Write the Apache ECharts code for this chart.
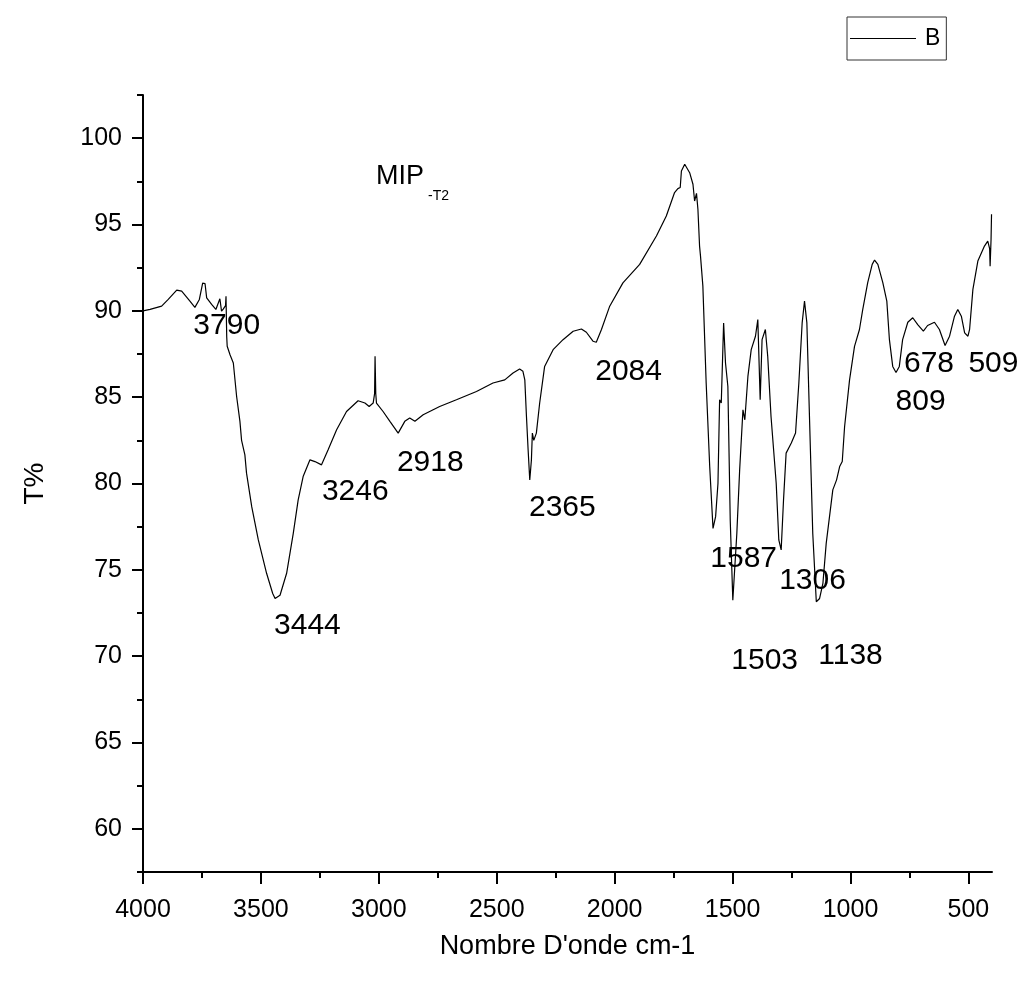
<!DOCTYPE html>
<html>
<head>
<meta charset="utf-8">
<script src="https://cdn.jsdelivr.net/npm/echarts@6/dist/echarts.min.js"></script>
<style>
  html, body { margin: 0; padding: 0; background: #fff; }
  #chart { width: 1024px; height: 983px; }
</style>
</head>
<body>
<div id="chart"></div>
<script>
// spectre IR (nombre d'onde, transmittance %)
const waveNumber = [
  4000, 3970, 3921, 3893, 3857, 3836, 3801, 3780, 3761, 3747, 3737, 3730, 3709, 3691, 3674, 3667,
  3660, 3650, 3648, 3645, 3643, 3631, 3617, 3603, 3589, 3582, 3568, 3561, 3539, 3511, 3476, 3450,
  3440, 3419, 3391, 3363, 3342, 3321, 3292, 3271, 3243, 3215, 3179, 3137, 3088, 3059, 3041, 3024,
  3018, 3016, 3013, 3010, 2982, 2953, 2918, 2890, 2869, 2847, 2812, 2742, 2671, 2586, 2516, 2466,
  2431, 2403, 2389, 2381, 2374, 2367, 2360, 2353, 2349, 2343, 2332, 2318, 2297, 2261, 2219, 2176,
  2141, 2120, 2092, 2078, 2056, 2021, 1965, 1894, 1823, 1781, 1746, 1732, 1722, 1717, 1713, 1703,
  1696, 1682, 1668, 1661, 1653, 1647, 1640, 1636, 1626, 1612, 1597, 1583, 1572, 1562, 1555, 1548,
  1538, 1530, 1520, 1510, 1499, 1492, 1482, 1470, 1456, 1448, 1435, 1421, 1403, 1393, 1383, 1375,
  1361, 1351, 1337, 1315, 1304, 1294, 1284, 1273, 1251, 1233, 1219, 1205, 1195, 1185, 1174, 1160,
  1145, 1131, 1117, 1103, 1075, 1059, 1046, 1035, 1025, 1004, 983, 962, 948, 927, 908, 898,
  884, 863, 846, 835, 821, 807, 793, 779, 757, 736, 715, 691, 673, 644, 623, 599,
  580, 559, 545, 530, 516, 502, 495, 481, 460, 432, 418, 410, 408, 404, 402
];
const transmittance = [
  90.0, 90.08, 90.27, 90.66, 91.2, 91.14, 90.56, 90.2, 90.66, 91.6, 91.58, 90.75, 90.37, 90.08, 90.7, 89.98,
  90.1, 90.3, 90.85, 88.5, 87.95, 87.46, 86.98, 85.04, 83.6, 82.5, 81.66, 80.6, 78.66, 76.73, 74.8, 73.63,
  73.34, 73.53, 74.8, 77.1, 79.05, 80.4, 81.37, 81.27, 81.08, 81.95, 83.11, 84.17, 84.79, 84.66, 84.46, 84.66,
  85.2, 87.37, 85.2, 84.66, 84.17, 83.6, 82.92, 83.6, 83.8, 83.6, 83.98, 84.46, 84.85, 85.33, 85.82, 86.0,
  86.4, 86.63, 86.5, 86.0, 83.88, 81.95, 80.2, 81.37, 82.92, 82.5, 82.92, 84.66, 86.78, 87.75, 88.33, 88.82,
  88.95, 88.76, 88.24, 88.18, 88.92, 90.27, 91.62, 92.69, 94.33, 95.49, 96.85, 97.08, 97.14, 98.1, 98.2, 98.49,
  98.57, 98.0, 97.33, 96.36, 96.8, 95.88, 93.75, 93.17, 91.43, 85.82, 80.98, 77.4, 78.08, 80.0, 84.85, 84.66,
  89.3, 86.98, 85.62, 77.88, 73.24, 73.24, 77.1, 80.79, 84.27, 83.69, 86.2, 87.75, 88.53, 89.49, 84.85, 88.33,
  88.92, 87.37, 83.88, 80.0, 76.73, 76.15, 79.05, 81.76, 82.34, 82.92, 85.82, 89.3, 90.56, 89.3, 83.88, 77.1,
  73.15, 73.34, 74.21, 76.53, 79.63, 80.21, 80.98, 81.27, 83.3, 86.0, 87.94, 88.92, 90.08, 91.63, 92.69, 92.94,
  92.69, 91.63, 90.56, 88.33, 86.78, 86.43, 86.78, 88.33, 89.34, 89.6, 89.2, 88.82, 89.15, 89.34, 88.92, 87.99,
  88.53, 89.69, 90.08, 89.69, 88.72, 88.53, 88.92, 91.24, 92.88, 93.75, 94.04, 93.6, 92.59, 94.14, 95.6
];

// graduations
const xMajorTicks = [500, 1000, 1500, 2000, 2500, 3000, 3500, 4000];
const xMinorTicks = [750, 1250, 1750, 2250, 2750, 3250, 3750];
const yMajorTicks = [60, 65, 70, 75, 80, 85, 90, 95, 100];
const yMinorTicks = [57.5, 62.5, 67.5, 72.5, 77.5, 82.5, 87.5, 92.5, 97.5, 102.5];

// annotations des pics (texte, position du texte en nombre d'onde / T%)
const peakNames = ['3790', '3444', '3246', '2918', '2365', '2084', '1587', '1306', '1503', '1138', '809', '678', '509'];
const peakLabelX = [3645, 3303, 3100, 2782, 2222, 1941, 1453, 1161, 1364, 1000, 703, 667, 394];
const peakLabelY = [89.15, 71.74, 79.53, 81.22, 78.61, 86.45, 75.62, 74.35, 69.76, 70.05, 84.75, 86.94, 86.94];

const FONT = "'Liberation Sans Narrow', 'Arial Narrow', 'Liberation Sans', Arial, sans-serif";

const chart = echarts.init(document.getElementById('chart'));

const spectrum = waveNumber.map((w, i) => [w, transmittance[i]]);
const peaks = peakNames.map((n, i) => ({ name: n, value: [peakLabelX[i], peakLabelY[i]] }));

const axisLineStyle = { color: '#000', width: 2 };
const plain = v => String(v);

const option = {
  animation: false,
  backgroundColor: '#fff',
  textStyle: { fontFamily: FONT, color: '#000' },
  grid: { left: 143, right: 32, top: 95, bottom: 111, containLabel: false },
  legend: {
    data: [{ name: 'B', icon: 'rect' }],
    left: 847,
    top: 17,
    padding: [10, 6, 10, 3],
    borderColor: '#333',
    borderWidth: 1,
    itemWidth: 66,
    itemHeight: 1,
    textStyle: { fontSize: 23, color: '#000', fontFamily: FONT, padding: [0, 0, 0, 4] }
  },
  xAxis: [
    {
      type: 'value',
      min: 400,
      max: 4000,
      inverse: true,
      position: 'bottom',
      name: "Nombre D'onde cm-1",
      nameLocation: 'middle',
      nameGap: 61,
      nameTextStyle: { fontSize: 27, color: '#000', fontFamily: FONT },
      axisLine: { show: true, lineStyle: axisLineStyle },
      axisTick: { show: true, customValues: xMajorTicks, length: 12, lineStyle: axisLineStyle },
      axisLabel: { show: true, customValues: xMajorTicks, formatter: plain, fontSize: 25, color: '#000', margin: 26, fontFamily: FONT },
      splitLine: { show: false }
    },
    {
      type: 'value',
      min: 400,
      max: 4000,
      inverse: true,
      position: 'bottom',
      axisLine: { show: false },
      axisTick: { show: true, customValues: xMinorTicks, length: 6, lineStyle: axisLineStyle },
      axisLabel: { show: false },
      splitLine: { show: false }
    }
  ],
  yAxis: [
    {
      type: 'value',
      min: 57.5,
      max: 102.5,
      position: 'left',
      name: 'T%',
      nameLocation: 'middle',
      nameGap: 94,
      nameTextStyle: { fontSize: 28, color: '#000', fontFamily: FONT },
      axisLine: { show: true, lineStyle: axisLineStyle },
      axisTick: { show: true, customValues: yMajorTicks, length: 11, lineStyle: axisLineStyle },
      axisLabel: { show: true, customValues: yMajorTicks, formatter: plain, fontSize: 25, color: '#000', margin: 21, fontFamily: FONT },
      splitLine: { show: false }
    },
    {
      type: 'value',
      min: 57.5,
      max: 102.5,
      position: 'left',
      axisLine: { show: false },
      axisTick: { show: true, customValues: yMinorTicks, length: 6, lineStyle: axisLineStyle },
      axisLabel: { show: false },
      splitLine: { show: false }
    }
  ],
  series: [
    {
      name: 'B',
      type: 'line',
      data: spectrum,
      symbol: 'none',
      smooth: false,
      lineStyle: { color: '#000', width: 1.2 },
      itemStyle: { color: '#000' }
    },
    {
      name: 'pics',
      type: 'scatter',
      data: peaks,
      symbolSize: 1,
      clip: false,
      silent: true,
      itemStyle: { color: 'rgba(0,0,0,0)', opacity: 1 },
      label: {
        show: true,
        position: 'inside',
        formatter: '{b}',
        fontSize: 30,
        color: '#000',
        opacity: 1,
        textBorderWidth: 0,
        fontFamily: FONT
      },
      z: 5
    }
  ],
  graphic: [
    {
      type: 'text',
      left: 376,
      top: 163,
      style: { text: 'MIP', fontSize: 27, fontFamily: FONT, fill: '#000' }
    },
    {
      type: 'text',
      left: 428,
      top: 189,
      style: { text: '-T2', fontSize: 14, fontFamily: FONT, fill: '#000' }
    }
  ]
};

chart.setOption(option);
window.addEventListener('resize', () => {
  if (chart) {
    chart.resize();
  }
});
</script>
</body>
</html>
